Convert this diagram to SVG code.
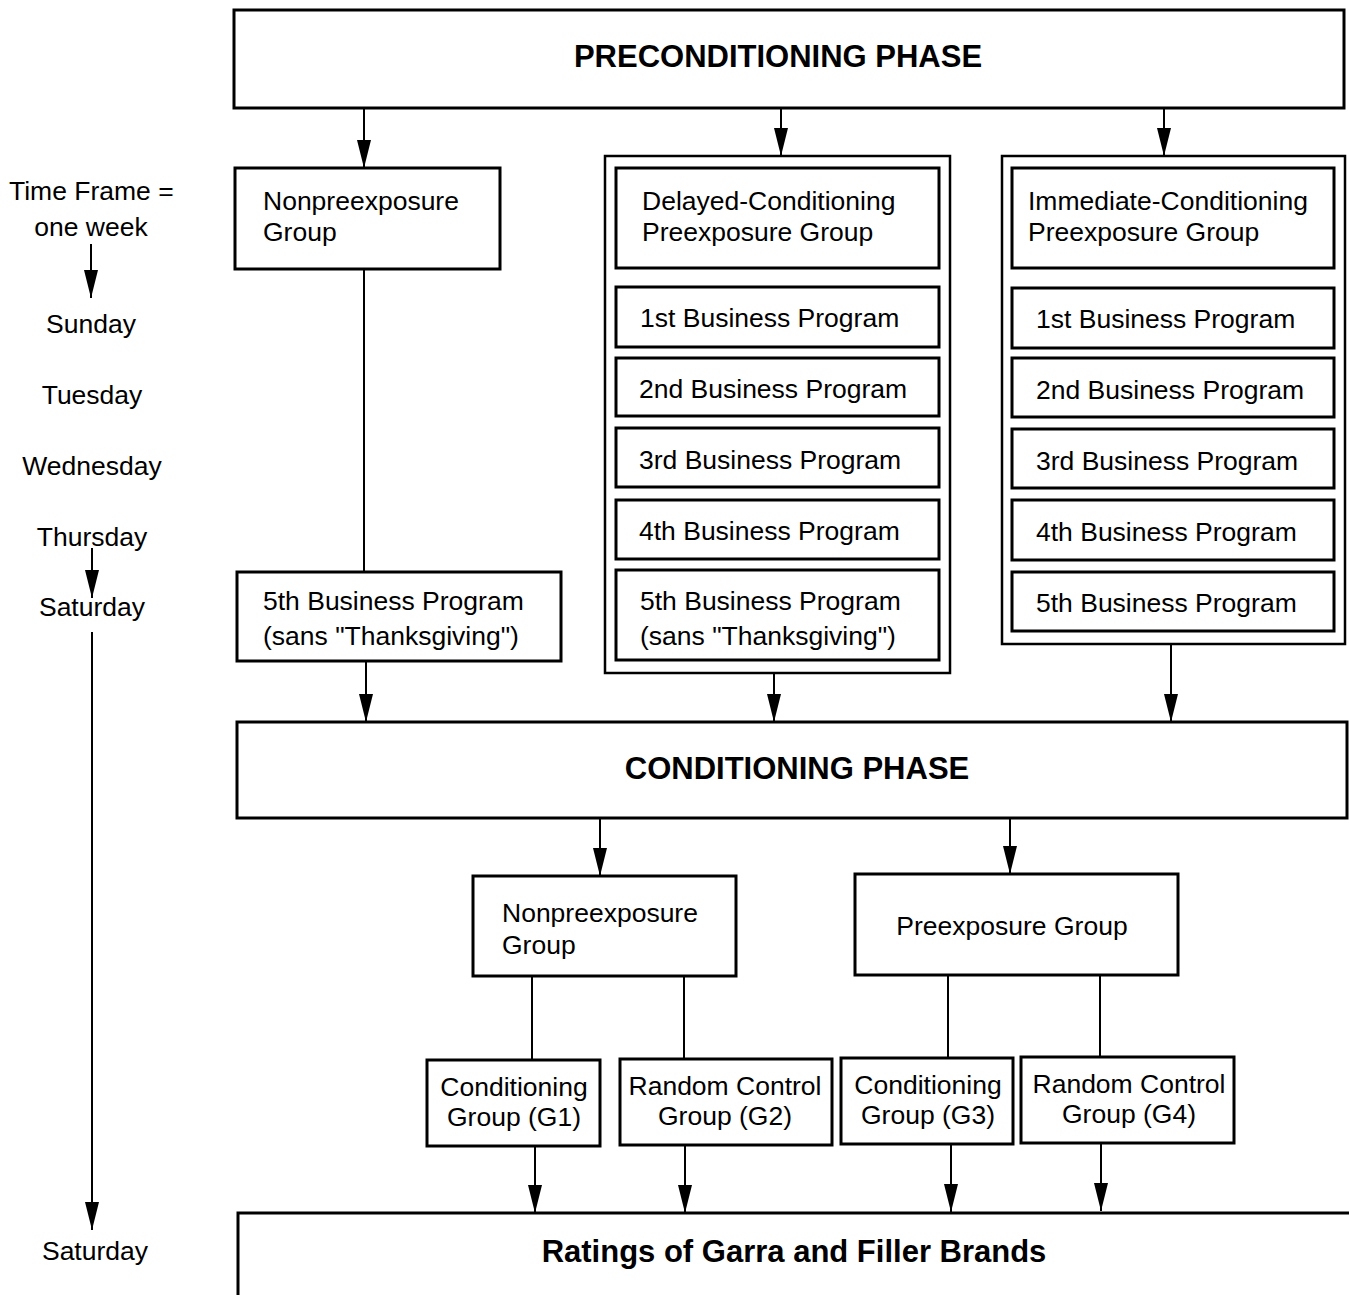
<svg xmlns="http://www.w3.org/2000/svg" width="1349" height="1295" viewBox="0 0 1349 1295">
<style>
.box{fill:#fff;stroke:#000;stroke-width:3}
.obox{fill:#fff;stroke:#000;stroke-width:2.5}
.t{font-family:"Liberation Sans",Arial,sans-serif;font-size:26.5px;fill:#000}
.b{font-family:"Liberation Sans",Arial,sans-serif;font-size:31px;font-weight:bold;fill:#000}
.c{text-anchor:middle}
.ln{stroke:#000;stroke-width:2;fill:none}
.ar{stroke:#000;stroke-width:2;fill:none;marker-end:url(#ah)}
</style>
<defs>
<marker id="ah" viewBox="0 0 28 14" refX="28" refY="7" markerWidth="28" markerHeight="14" markerUnits="userSpaceOnUse" orient="auto">
<path d="M0,0 L28,7 L0,14 z" fill="#000"/>
</marker>
</defs>
<rect width="1349" height="1295" fill="#fff"/>

<g id="connectors">
<line class="ar" x1="364" y1="108" x2="364" y2="168"/>
<line class="ar" x1="781" y1="108" x2="781" y2="156"/>
<line class="ar" x1="1164" y1="108" x2="1164" y2="156"/>
<line class="ln" x1="364" y1="269" x2="364" y2="572"/>
<line class="ar" x1="366" y1="661" x2="366" y2="722"/>
<line class="ar" x1="774" y1="673" x2="774" y2="722"/>
<line class="ar" x1="1171" y1="644" x2="1171" y2="722"/>
<line class="ln" x1="773" y1="347" x2="773" y2="358"/>
<line class="ln" x1="773" y1="416" x2="773" y2="428"/>
<line class="ln" x1="773" y1="487" x2="773" y2="500"/>
<line class="ln" x1="773" y1="559" x2="773" y2="570"/>
<line class="ln" x1="1165" y1="348" x2="1165" y2="358"/>
<line class="ln" x1="1165" y1="417" x2="1165" y2="429"/>
<line class="ln" x1="1165" y1="488" x2="1165" y2="500"/>
<line class="ln" x1="1165" y1="560" x2="1165" y2="572"/>
<line class="ar" x1="600" y1="818" x2="600" y2="876"/>
<line class="ar" x1="1010" y1="818" x2="1010" y2="874"/>
<line class="ln" x1="532" y1="976" x2="532" y2="1060"/>
<line class="ln" x1="684" y1="976" x2="684" y2="1059"/>
<line class="ln" x1="948" y1="975" x2="948" y2="1058"/>
<line class="ln" x1="1100" y1="975" x2="1100" y2="1057"/>
<line class="ar" x1="535" y1="1146" x2="535" y2="1213"/>
<line class="ar" x1="685" y1="1145" x2="685" y2="1213"/>
<line class="ar" x1="951" y1="1144" x2="951" y2="1212"/>
<line class="ar" x1="1101" y1="1143" x2="1101" y2="1211"/>
<line class="ar" x1="91" y1="244" x2="91" y2="298"/>
<line class="ar" x1="92" y1="548" x2="92" y2="598"/>
<line class="ar" x1="92" y1="632" x2="92" y2="1230"/>
</g>

<g id="timeline">
<text class="t" x="9" y="200">Time Frame =</text>
<text class="t c" x="91" y="236">one week</text>
<text class="t c" x="91" y="333">Sunday</text>
<text class="t c" x="92" y="404">Tuesday</text>
<text class="t c" x="92" y="475">Wednesday</text>
<text class="t c" x="92" y="546">Thursday</text>
<text class="t c" x="92" y="616">Saturday</text>
<text class="t c" x="95" y="1260">Saturday</text>
</g>

<g id="preconditioning">
<rect class="box" x="234" y="10" width="1110" height="98"/>
<text class="b c" x="778" y="67">PRECONDITIONING PHASE</text>
</g>

<g id="nonpre1">
<rect class="box" x="235" y="168" width="265" height="101"/>
<text class="t" x="263" y="210">Nonpreexposure</text>
<text class="t" x="263" y="241">Group</text>
</g>
<g id="nonpre1-5th">
<rect class="box" x="237" y="572" width="324" height="89"/>
<text class="t" x="263" y="610">5th Business Program</text>
<text class="t" x="263" y="645">(sans "Thanksgiving")</text>
</g>

<g id="delayed">
<rect class="obox" x="605" y="156" width="345" height="517"/>
<rect class="box" x="616" y="168" width="323" height="100"/>
<text class="t" x="642" y="210">Delayed-Conditioning</text>
<text class="t" x="642" y="241">Preexposure Group</text>
</g>
<g id="delayed-1"><rect class="box" x="616" y="287" width="323" height="60"/><text class="t" x="640" y="327">1st Business Program</text></g>
<g id="delayed-2"><rect class="box" x="616" y="358" width="323" height="58"/><text class="t" x="639" y="398">2nd Business Program</text></g>
<g id="delayed-3"><rect class="box" x="616" y="428" width="323" height="59"/><text class="t" x="639" y="469">3rd Business Program</text></g>
<g id="delayed-4"><rect class="box" x="616" y="500" width="323" height="59"/><text class="t" x="639" y="540">4th Business Program</text></g>
<g id="delayed-5"><rect class="box" x="616" y="570" width="323" height="90"/><text class="t" x="640" y="610">5th Business Program</text><text class="t" x="640" y="645">(sans "Thanksgiving")</text></g>

<g id="immediate">
<rect class="obox" x="1002" y="156" width="343" height="488"/>
<rect class="box" x="1012" y="168" width="322" height="100"/>
<text class="t" x="1028" y="210">Immediate-Conditioning</text>
<text class="t" x="1028" y="241">Preexposure Group</text>
</g>
<g id="immediate-1"><rect class="box" x="1012" y="288" width="322" height="60"/><text class="t" x="1036" y="328">1st Business Program</text></g>
<g id="immediate-2"><rect class="box" x="1012" y="358" width="322" height="59"/><text class="t" x="1036" y="399">2nd Business Program</text></g>
<g id="immediate-3"><rect class="box" x="1012" y="429" width="322" height="59"/><text class="t" x="1036" y="470">3rd Business Program</text></g>
<g id="immediate-4"><rect class="box" x="1012" y="500" width="322" height="60"/><text class="t" x="1036" y="541">4th Business Program</text></g>
<g id="immediate-5"><rect class="box" x="1012" y="572" width="322" height="59"/><text class="t" x="1036" y="612">5th Business Program</text></g>

<g id="conditioning">
<rect class="box" x="237" y="722" width="1110" height="96"/>
<text class="b c" x="797" y="779">CONDITIONING PHASE</text>
</g>

<g id="nonpre2">
<rect class="box" x="473" y="876" width="263" height="100"/>
<text class="t" x="502" y="922">Nonpreexposure</text>
<text class="t" x="502" y="954">Group</text>
</g>
<g id="pre2">
<rect class="box" x="855" y="874" width="323" height="101"/>
<text class="t c" x="1012" y="935">Preexposure Group</text>
</g>

<g id="g1"><rect class="box" x="427" y="1060" width="173" height="86"/><text class="t c" x="514" y="1096">Conditioning</text><text class="t c" x="514" y="1126">Group (G1)</text></g>
<g id="g2"><rect class="box" x="620" y="1059" width="212" height="86"/><text class="t c" x="725" y="1095">Random Control</text><text class="t c" x="725" y="1125">Group (G2)</text></g>
<g id="g3"><rect class="box" x="841" y="1058" width="172" height="86"/><text class="t c" x="928" y="1094">Conditioning</text><text class="t c" x="928" y="1124">Group (G3)</text></g>
<g id="g4"><rect class="box" x="1021" y="1057" width="213" height="86"/><text class="t c" x="1129" y="1093">Random Control</text><text class="t c" x="1129" y="1123">Group (G4)</text></g>

<g id="ratings">
<rect class="box" x="238" y="1213" width="1120" height="100"/>
<text class="b c" x="794" y="1262">Ratings of Garra and Filler Brands</text>
</g>
</svg>
